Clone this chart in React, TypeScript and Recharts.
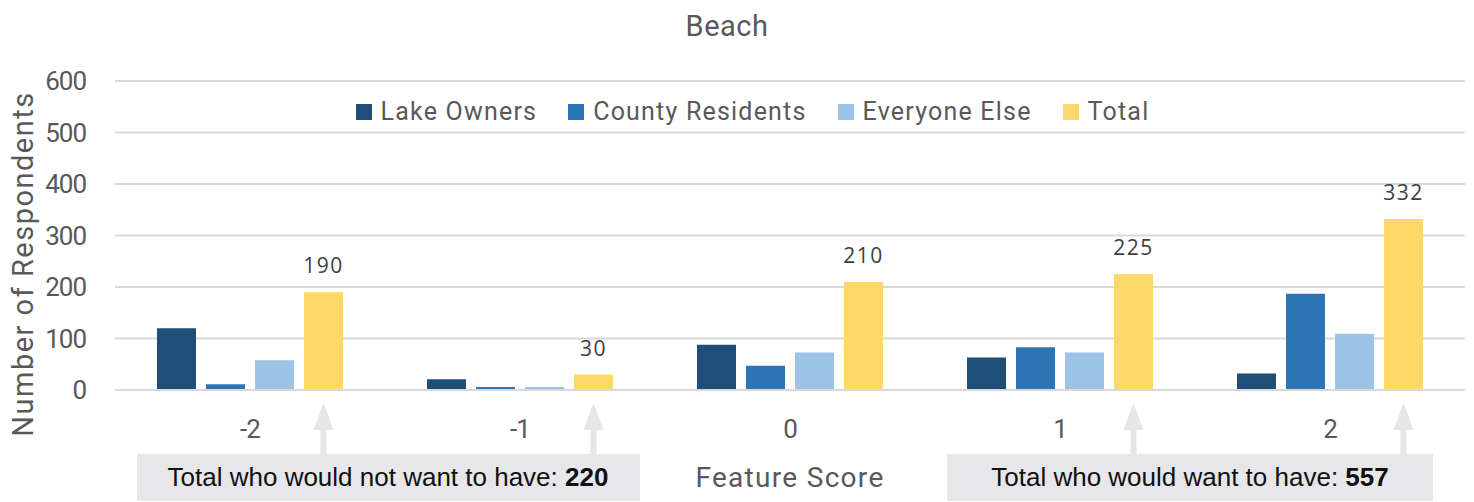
import React from 'react';
import { BarChart, Bar, XAxis, YAxis, CartesianGrid, Legend, LabelList } from 'recharts';

// chart values
const scores = ['-2', '-1', '0', '1', '2'];
const seriesNames = ['Lake Owners', 'County Residents', 'Everyone Else', 'Total'];
const lakeOwners = [120, 21, 88, 63, 32];
const countyResidents = [11, 6, 47, 83, 187];
const everyoneElse = [58, 6, 73, 73, 109];
const totals = [190, 30, 210, 225, 332];
const arrowUnder = [true, true, false, true, true];
const yTicks = [0, 100, 200, 300, 400, 500, 600];

const notWant = totals[0] + totals[1];
const want = totals[3] + totals[4];

const data = scores.map((s, i) => ({
  score: s,
  lake: lakeOwners[i],
  county: countyResidents[i],
  everyone: everyoneElse[i],
  total: totals[i],
  arrow: arrowUnder[i],
}));

const grey = '#595959';
const din = 'Roboto, "Noto Sans", sans-serif';
const arrowFill = '#e6e6e8';
const tickStyle = { fill: grey, fontSize: 26, fontFamily: din, letterSpacing: -1 };

// total bar + the grey arrow under it
const TotalShape = (props: any) => {
  const { x, y, width, height, fill, payload } = props;
  const cx = x + width / 2;
  const base = y + height;
  return (
    <g>
      <rect x={x} y={y} width={width} height={height} fill={fill} />
      {payload && payload.arrow && (
        <path
          d={`M${cx} ${base + 13} L${cx + 10} ${base + 40} L${cx + 3} ${base + 40} L${cx + 3} ${base + 64} L${cx - 3} ${base + 64} L${cx - 3} ${base + 40} L${cx - 10} ${base + 40} Z`}
          fill={arrowFill}
        />
      )}
    </g>
  );
};

const YLabel = () => (
  <text
    transform="translate(33, 264) rotate(-90)"
    textAnchor="middle"
    fill={grey}
    fontSize={29}
    fontFamily={din}
    letterSpacing={1.5}
  >
    Number of Respondents
  </text>
);

const renderLegend = (props: any) => {
  const items = [...(props.payload || [])].sort(
    (a: any, b: any) => seriesNames.indexOf(a.value) - seriesNames.indexOf(b.value)
  );
  return (
    <div style={{ display: 'flex', justifyContent: 'center', paddingLeft: 31, gap: 31 }}>
      {items.map((e: any) => (
        <div key={e.value} style={{ display: 'flex', alignItems: 'center', height: 27 }}>
          <span style={{ width: 16, height: 16, background: e.color, marginRight: 9, display: 'inline-block' }} />
          <span style={{ fontFamily: din, fontSize: 25, color: grey, letterSpacing: 1.2, lineHeight: '27px' }}>{e.value}</span>
        </div>
      ))}
    </div>
  );
};

export default function App() {
  return (
    <div style={{ position: 'absolute', left: 0, top: 0, width: 1474, height: 502, background: '#fff' }}>
      <BarChart
        width={1474}
        height={502}
        data={data}
        margin={{ top: 81, right: 9, bottom: 82, left: 0 }}
        barCategoryGap={42}
        barGap={10}
      >
        <CartesianGrid vertical={false} stroke="#d9d9d9" strokeWidth={2} />
        <XAxis
          dataKey="score"
          tickLine={false}
          axisLine={{ stroke: '#d9d9d9', strokeWidth: 2 }}
          tickSize={0}
          tickMargin={30}
          height={30}
          tick={tickStyle}
          label={{ value: 'Feature Score', position: 'bottom', offset: 47, fill: grey, fontSize: 28, fontFamily: din, letterSpacing: 1.3 }}
        />
        <YAxis
          width={115}
          domain={[0, 600]}
          ticks={yTicks}
          tickLine={false}
          axisLine={false}
          tickSize={0}
          tickMargin={29}
          tick={tickStyle}
          label={{ content: YLabel }}
        />
        <Legend
          layout="horizontal"
          verticalAlign="middle"
          content={renderLegend}
          wrapperStyle={{ top: 98, left: 0, width: 1474 }}
        />
        <Bar dataKey="lake" name={seriesNames[0]} fill="#1f4e79" isAnimationActive={false} />
        <Bar dataKey="county" name={seriesNames[1]} fill="#2e75b6" isAnimationActive={false} />
        <Bar dataKey="everyone" name={seriesNames[2]} fill="#9dc3e6" isAnimationActive={false} />
        <Bar dataKey="total" name={seriesNames[3]} fill="#ffd966" shape={TotalShape} isAnimationActive={false}>
          <LabelList
            dataKey="total"
            position="top"
            offset={19}
            fill="#404040"
            fontSize={21}
            fontFamily='"Open Sans", sans-serif'
            letterSpacing={1.5}
          />
        </Bar>
      </BarChart>
      <svg width={1474} height={502} style={{ position: 'absolute', left: 0, top: 0, pointerEvents: 'none' }}>
        <text x={727} y={36} textAnchor="middle" fill={grey} fontSize={29} fontFamily={din} letterSpacing={0.5}>
          Beach
        </text>
        <rect x={137} y={454} width={503} height={47} fill="#e7e7e9" />
        <text x={388} y={486} textAnchor="middle" fill="#111" fontSize={26} fontFamily='"Liberation Sans", Arial, sans-serif'>
          Total who would not want to have: <tspan fontWeight="bold">{notWant}</tspan>
        </text>
        <rect x={947} y={454} width={486} height={47} fill="#e7e7e9" />
        <text x={1190} y={486} textAnchor="middle" fill="#111" fontSize={26} fontFamily='"Liberation Sans", Arial, sans-serif'>
          Total who would want to have: <tspan fontWeight="bold">{want}</tspan>
        </text>
      </svg>
    </div>
  );
}
